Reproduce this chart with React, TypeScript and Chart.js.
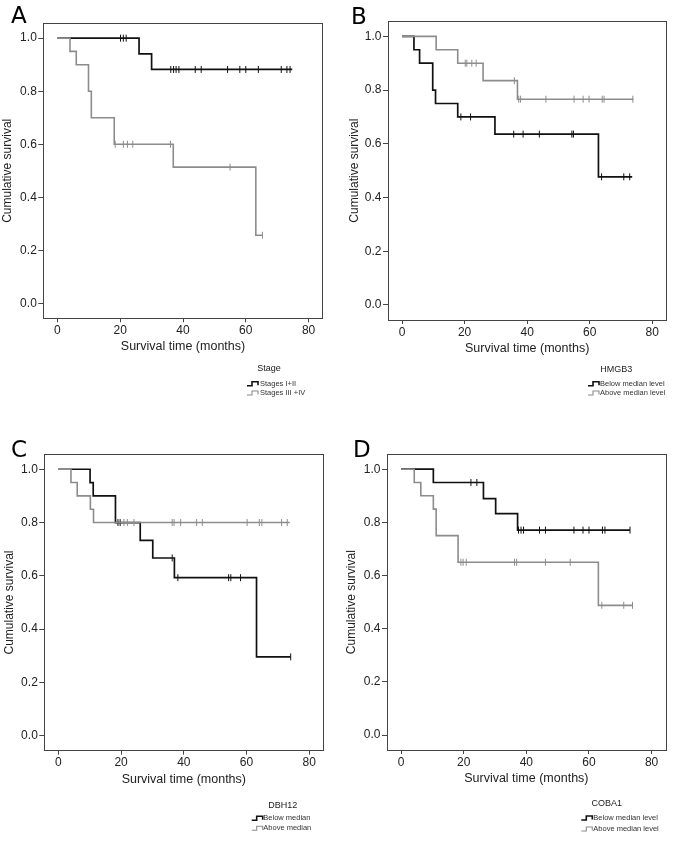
import React, { useEffect, useRef } from 'react';
import { Chart, registerables } from 'chart.js';
Chart.register(...registerables);

// ---------- Data ----------
const X_TICKS = [0, 20, 40, 60, 80];
const Y_TICKS = [0, 0.2, 0.4, 0.6, 0.8, 1.0];

// Panel A: Stage
const A_BLACK_EVENTS = [26.0, 30.0];
const A_BLACK_SURV = [0.941, 0.882];
const A_BLACK_CENSOR = [20.1, 21.0, 21.9, 36.1, 37.0, 37.8, 38.7, 43.9, 45.8, 54.2, 58.1, 60.0, 64.0, 71.3, 73.1, 74.1];
const A_BLACK_END = 74.8;
const A_GRAY_EVENTS = [4.0, 6.0, 9.9, 10.8, 18.1, 36.9, 63.2];
const A_GRAY_SURV = [0.95, 0.9, 0.8, 0.7, 0.6, 0.514, 0.257];
const A_GRAY_CENSOR = [18.4, 21.0, 22.3, 24.0, 36.0, 55.0, 65.3];
const A_GRAY_END = 65.3;

// Panel B: HMGB3
const B_BLACK_EVENTS = [3.8, 5.6, 9.8, 10.7, 17.8, 29.7, 62.8];
const B_BLACK_SURV = [0.95, 0.9, 0.8, 0.75, 0.7, 0.636, 0.477];
const B_BLACK_CENSOR = [18.8, 21.9, 35.7, 38.7, 43.9, 54.3, 54.8, 63.8, 70.9, 72.8];
const B_BLACK_END = 73.6;
const B_GRAY_EVENTS = [10.9, 17.8, 25.9, 36.9];
const B_GRAY_SURV = [0.95, 0.9, 0.835, 0.766];
const B_GRAY_CENSOR = [20.2, 20.7, 22.3, 23.7, 35.9, 37.3, 37.9, 46.0, 55.0, 57.9, 59.8, 64.0, 64.6, 73.8];
const B_GRAY_END = 74.0;

// Panel C: DBH12
const C_BLACK_EVENTS = [10.1, 11.1, 18.2, 26.1, 30.1, 37.0, 63.2];
const C_BLACK_SURV = [0.95, 0.9, 0.8, 0.733, 0.667, 0.593, 0.296];
const C_BLACK_CENSOR = [19.0, 19.7, 36.3, 38.1, 54.3, 55.0, 58.1, 74.1];
const C_BLACK_END = 74.1;
const C_GRAY_EVENTS = [4.0, 6.0, 10.2, 11.2];
const C_GRAY_SURV = [0.95, 0.9, 0.85, 0.8];
const C_GRAY_CENSOR = [20.9, 22.0, 24.1, 36.3, 36.9, 39.0, 44.1, 45.9, 60.2, 64.1, 64.9, 71.2, 73.0];
const C_GRAY_END = 73.8;

// Panel D: COBA1
const D_BLACK_EVENTS = [10.3, 26.3, 30.2, 37.2];
const D_BLACK_SURV = [0.95, 0.889, 0.833, 0.771];
const D_BLACK_CENSOR = [22.3, 24.2, 37.5, 38.3, 39.1, 44.2, 46.1, 55.2, 58.1, 60.0, 64.3, 65.1, 73.1];
const D_BLACK_END = 73.1;
const D_GRAY_EVENTS = [4.2, 6.3, 10.3, 11.2, 18.2, 63.0];
const D_GRAY_SURV = [0.95, 0.9, 0.85, 0.75, 0.65, 0.488];
const D_GRAY_CENSOR = [19.1, 19.8, 20.8, 36.2, 36.9, 46.1, 54.0, 64.1, 71.1, 73.9];
const D_GRAY_END = 73.9;

const LETTERS = ['A', 'B', 'C', 'D'];
const LEGEND_TITLES = ['Stage', 'HMGB3', 'DBH12', 'COBA1'];
const LEGEND_LABELS = [
  ['Stages I+II', 'Stages III +IV'],
  ['Below median level', 'Above median level'],
  ['Below median', 'Above median'],
  ['Below median level', 'Above median level'],
];

// ---------- Styles / layout ----------
const BLACK = '#111111';
const GRAY = '#8c8c8c';
const AXIS = '#444444';
const TEXT = '#222222';
const FONT = "'Liberation Sans', Arial, sans-serif";

type Panel = {
  left: number; top: number; w: number; h: number;
  pad: { left: number; top: number; right: number; bottom: number };
  yw: number;
  legend: { tx: number; ty: number; ix: number; tx2: number; y1: number; y2: number };
  letter: { x: number; y: number };
  black: { ev: number[]; sv: number[]; cen: number[]; end: number };
  gray: { ev: number[]; sv: number[]; cen: number[]; end: number };
};

const PANELS: Panel[] = [
  {
    left: 0, top: 0, w: 338, h: 420,
    pad: { left: 0, top: 23.3, right: 15.3, bottom: 65.7 }, yw: 43.3,
    legend: { tx: 269, ty: 369, ix: 247, tx2: 260, y1: 383.7, y2: 393 },
    letter: { x: 11, y: 23 },
    black: { ev: A_BLACK_EVENTS, sv: A_BLACK_SURV, cen: A_BLACK_CENSOR, end: A_BLACK_END },
    gray: { ev: A_GRAY_EVENTS, sv: A_GRAY_SURV, cen: A_GRAY_CENSOR, end: A_GRAY_END },
  },
  {
    left: 338, top: 0, w: 339, h: 420,
    pad: { left: 9.8, top: 21.3, right: 10.7, bottom: 64 }, yw: 40.2,
    legend: { tx: 278.3, ty: 369.3, ix: 250, tx2: 262, y1: 383.7, y2: 393 },
    letter: { x: 13, y: 24 },
    black: { ev: B_BLACK_EVENTS, sv: B_BLACK_SURV, cen: B_BLACK_CENSOR, end: B_BLACK_END },
    gray: { ev: B_GRAY_EVENTS, sv: B_GRAY_SURV, cen: B_GRAY_CENSOR, end: B_GRAY_END },
  },
  {
    left: 0, top: 420, w: 338, h: 424,
    pad: { left: 2.8, top: 34.3, right: 14.7, bottom: 57.3 }, yw: 41.5,
    legend: { tx: 282.7, ty: 386, ix: 251.7, tx2: 263.3, y1: 398.3, y2: 408.3 },
    letter: { x: 11, y: 36.5 },
    black: { ev: C_BLACK_EVENTS, sv: C_BLACK_SURV, cen: C_BLACK_CENSOR, end: C_BLACK_END },
    gray: { ev: C_GRAY_EVENTS, sv: C_GRAY_SURV, cen: C_GRAY_CENSOR, end: C_GRAY_END },
  },
  {
    left: 338, top: 420, w: 339, h: 424,
    pad: { left: 6.5, top: 34.3, right: 11.3, bottom: 58 }, yw: 42.5,
    legend: { tx: 268.7, ty: 384, ix: 243.3, tx2: 255.3, y1: 398, y2: 409 },
    letter: { x: 15, y: 36.5 },
    black: { ev: D_BLACK_EVENTS, sv: D_BLACK_SURV, cen: D_BLACK_CENSOR, end: D_BLACK_END },
    gray: { ev: D_GRAY_EVENTS, sv: D_GRAY_SURV, cen: D_GRAY_CENSOR, end: D_GRAY_END },
  },
];

function stepPoints(ev: number[], sv: number[], end: number) {
  const pts = [{ x: 0, y: 1 }];
  ev.forEach((t, i) => pts.push({ x: t, y: sv[i] }));
  pts.push({ x: end, y: sv[sv.length - 1] });
  return pts;
}

function survAt(ev: number[], sv: number[], t: number) {
  let s = 1;
  ev.forEach((e, i) => { if (e <= t) s = sv[i]; });
  return s;
}

function censorPoints(ev: number[], sv: number[], cen: number[]) {
  return cen.map((t) => ({ x: t, y: survAt(ev, sv, t) }));
}

function drawIcon(ctx: CanvasRenderingContext2D, x: number, y: number, color: string, lw: number) {
  ctx.save();
  ctx.strokeStyle = color;
  ctx.lineWidth = lw;
  ctx.beginPath();
  ctx.moveTo(x, y + 2);
  ctx.lineTo(x + 5, y + 2);
  ctx.lineTo(x + 5, y - 2);
  ctx.lineTo(x + 11, y - 2);
  ctx.lineTo(x + 11, y + 1.5);
  ctx.stroke();
  ctx.restore();
}

function KMPanel({ idx }: { idx: number }) {
  const ref = useRef<HTMLCanvasElement | null>(null);
  const p = PANELS[idx];

  useEffect(() => {
    if (!ref.current) return;
    const boxPlugin = {
      id: 'kmBox' + idx,
      afterDraw(chart: any) {
        const { ctx, chartArea: a } = chart;
        ctx.save();
        ctx.strokeStyle = AXIS;
        ctx.lineWidth = 1;
        ctx.strokeRect(Math.round(a.left) + 0.5, Math.round(a.top) + 0.5,
          Math.round(a.right - a.left), Math.round(a.bottom - a.top));
        // panel letter
        ctx.fillStyle = '#000';
        ctx.font = "23px 'DejaVu Sans', sans-serif";
        ctx.textAlign = 'left';
        ctx.textBaseline = 'alphabetic';
        ctx.fillText(LETTERS[idx], p.letter.x, p.letter.y);
        // legend
        const L = p.legend;
        ctx.fillStyle = TEXT;
        ctx.font = `9px ${FONT}`;
        ctx.textAlign = 'center';
        ctx.textBaseline = 'middle';
        ctx.fillText(LEGEND_TITLES[idx], L.tx, L.ty);
        ctx.font = `7.5px ${FONT}`;
        ctx.textAlign = 'left';
        ctx.fillStyle = '#333';
        drawIcon(ctx, L.ix, L.y1, BLACK, 1.6);
        ctx.fillText(LEGEND_LABELS[idx][0], L.tx2, L.y1);
        drawIcon(ctx, L.ix, L.y2, GRAY, 1.1);
        ctx.fillText(LEGEND_LABELS[idx][1], L.tx2, L.y2);
        ctx.restore();
      },
    };

    const chart = new Chart(ref.current, {
      type: 'line',
      data: {
        datasets: [
          {
            data: censorPoints(p.gray.ev, p.gray.sv, p.gray.cen),
            showLine: false, borderColor: GRAY, backgroundColor: GRAY,
            pointStyle: 'line', pointRotation: 90, pointRadius: 3.5, pointBorderWidth: 1,
          } as any,
          {
            data: stepPoints(p.gray.ev, p.gray.sv, p.gray.end),
            stepped: true, borderColor: GRAY, borderWidth: 1.6, pointRadius: 0, fill: false,
          },
          {
            data: censorPoints(p.black.ev, p.black.sv, p.black.cen),
            showLine: false, borderColor: BLACK, backgroundColor: BLACK,
            pointStyle: 'line', pointRotation: 90, pointRadius: 3.5, pointBorderWidth: 1,
          } as any,
          {
            data: stepPoints(p.black.ev, p.black.sv, p.black.end),
            stepped: true, borderColor: BLACK, borderWidth: 1.7, pointRadius: 0, fill: false,
          },
        ],
      },
      options: {
        animation: false,
        responsive: false,
        devicePixelRatio: 1,
        layout: { padding: p.pad },
        plugins: { legend: { display: false }, tooltip: { enabled: false } },
        scales: {
          x: {
            type: 'linear',
            min: -4.5, max: 84.5,
            afterBuildTicks: (s: any) => { s.ticks = X_TICKS.map((v) => ({ value: v })); },
            afterFit: (s: any) => { s.height = 36; },
            border: { display: false },
            grid: { drawOnChartArea: false, drawTicks: true, tickLength: 4, color: AXIS, tickColor: AXIS },
            ticks: {
              autoSkip: false, maxRotation: 0, padding: 1, color: TEXT,
              font: { family: FONT, size: 12 },
              callback: (v: any) => String(v),
            },
            title: {
              display: true, text: 'Survival time (months)', color: TEXT,
              font: { family: FONT, size: 12.5 }, padding: { top: 0, bottom: 0 },
            },
          },
          y: {
            type: 'linear',
            min: -0.056, max: 1.056,
            afterBuildTicks: (s: any) => { s.ticks = Y_TICKS.map((v) => ({ value: v })); },
            afterFit: (s: any) => { s.width = p.yw; },
            border: { display: false },
            grid: { drawOnChartArea: false, drawTicks: true, tickLength: 5, color: AXIS, tickColor: AXIS },
            ticks: {
              autoSkip: false, padding: 1.5, color: TEXT,
              font: { family: FONT, size: 12 },
              callback: (v: any) => Number(v).toFixed(1),
            },
            title: {
              display: true, text: 'Cumulative survival', color: TEXT,
              font: { family: FONT, size: 12 }, padding: { top: 0, bottom: 0 },
            },
          },
        },
      } as any,
      plugins: [boxPlugin],
    });
    return () => chart.destroy();
  }, [idx]);

  return (
    <div style={{ position: 'absolute', left: p.left, top: p.top, width: p.w, height: p.h }}>
      <canvas ref={ref} width={p.w} height={p.h} style={{ width: p.w, height: p.h, display: 'block' }} />
    </div>
  );
}

export default function App() {
  return (
    <div style={{ position: 'absolute', left: 0, top: 0, width: 677, height: 844, background: '#fff' }}>
      {PANELS.map((_, i) => <KMPanel key={i} idx={i} />)}
    </div>
  );
}
